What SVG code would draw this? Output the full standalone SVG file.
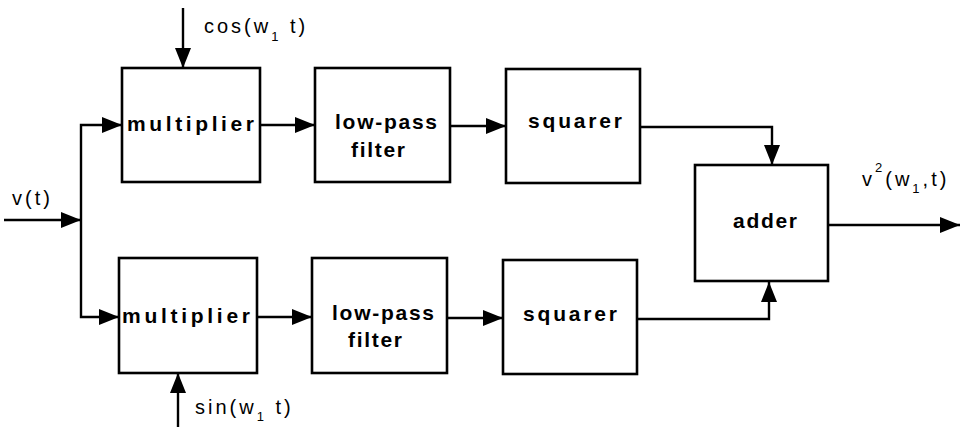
<svg xmlns="http://www.w3.org/2000/svg" width="963" height="427" viewBox="0 0 963 427">
<style>
.box{fill:#fff;stroke:#000;stroke-width:2.6}
.bl{font-family:"Liberation Sans",Arial,sans-serif;font-weight:bold;font-size:21px;fill:#000}
.lbl{font-family:"Liberation Sans",Arial,sans-serif;font-size:20px;fill:#000;letter-spacing:3px}
.sub{font-size:13px}
.wire{fill:none;stroke:#000;stroke-width:2.4}
</style>
<defs>
<marker id="ah" viewBox="0 0 20 16" refX="20" refY="8" markerWidth="20" markerHeight="16" markerUnits="userSpaceOnUse" orient="auto">
<path d="M0,0 L20,8 L0,16 z" fill="#000"/>
</marker>
</defs>
<rect width="963" height="427" fill="#fff"/>
<g id="connectors">
<path class="wire" d="M4,220 H81" marker-end="url(#ah)"/>
<path class="wire" d="M81,220 V125 H122" marker-end="url(#ah)"/>
<path class="wire" d="M81,220 V317 H119" marker-end="url(#ah)"/>
<path class="wire" d="M183,8 V68" marker-end="url(#ah)"/>
<path class="wire" d="M178,427 V373" marker-end="url(#ah)"/>
<path class="wire" d="M260,125 H315" marker-end="url(#ah)"/>
<path class="wire" d="M450,126 H506" marker-end="url(#ah)"/>
<path class="wire" d="M257,317 H312" marker-end="url(#ah)"/>
<path class="wire" d="M447,318 H503" marker-end="url(#ah)"/>
<path class="wire" d="M640,127 H772 V165" marker-end="url(#ah)"/>
<path class="wire" d="M637,319 H769 V282" marker-end="url(#ah)"/>
<path class="wire" d="M828,225 H960" marker-end="url(#ah)"/>
</g>
<g id="multiplier-top">
<rect class="box" x="122" y="68" width="138" height="114"/>
<text class="bl" x="127" y="131" textLength="127" lengthAdjust="spacing">multiplier</text>
</g>
<g id="lpf-top">
<rect class="box" x="315" y="68" width="135" height="114"/>
<text class="bl" x="335" y="129" textLength="102" lengthAdjust="spacing">low-pass</text>
<text class="bl" x="351" y="157" textLength="54" lengthAdjust="spacing">filter</text>
</g>
<g id="squarer-top">
<rect class="box" x="506" y="69" width="134" height="114"/>
<text class="bl" x="528" y="128" textLength="94" lengthAdjust="spacing">squarer</text>
</g>
<g id="adder">
<rect class="box" x="695" y="165" width="133" height="116"/>
<text class="bl" x="733" y="228" textLength="64" lengthAdjust="spacing">adder</text>
</g>
<g id="multiplier-bottom">
<rect class="box" x="119" y="258" width="138" height="115"/>
<text class="bl" x="122" y="323" textLength="128" lengthAdjust="spacing">multiplier</text>
</g>
<g id="lpf-bottom">
<rect class="box" x="312" y="258" width="135" height="115"/>
<text class="bl" x="332" y="320" textLength="102" lengthAdjust="spacing">low-pass</text>
<text class="bl" x="348" y="347" textLength="54" lengthAdjust="spacing">filter</text>
</g>
<g id="squarer-bottom">
<rect class="box" x="503" y="260" width="134" height="114"/>
<text class="bl" x="523" y="321" textLength="94" lengthAdjust="spacing">squarer</text>
</g>
<g id="labels">
<text class="lbl" x="12" y="205">v(t)</text>
<text class="lbl" x="204" y="33">cos(w<tspan class="sub" dy="8">1</tspan><tspan dy="-8"> t)</tspan></text>
<text class="lbl" x="195" y="414">sin(w<tspan class="sub" dy="7">1</tspan><tspan dy="-7"> t)</tspan></text>
<text class="lbl" x="862" y="186">v<tspan class="sub" dy="-14">2</tspan><tspan dy="14">(w</tspan><tspan class="sub" dy="7">1</tspan><tspan dy="-7">,t)</tspan></text>
</g>
</svg>
